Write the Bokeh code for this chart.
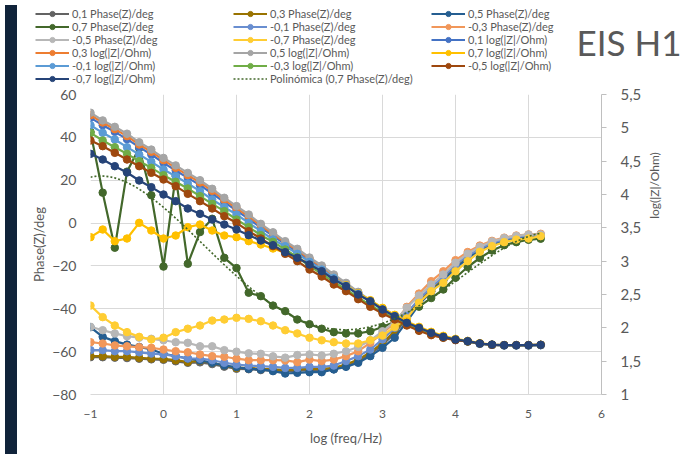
import numpy as np
from math import pi
from bokeh.plotting import figure
from bokeh.models import (Range1d, LinearAxis, FixedTicker, CustomJSTickFormatter,
                          Legend, LegendItem, Label, Div)
from bokeh.layouts import row, column
from bokeh.embed import file_html
from bokeh.resources import INLINE

# ---------------- data ----------------
log_freq = [-1.0, -0.833, -0.667, -0.5, -0.333, -0.167, 0.0, 0.167, 0.333, 0.5,
            0.667, 0.833, 1.0, 1.167, 1.333, 1.5, 1.667, 1.833, 2.0, 2.167,
            2.333, 2.5, 2.667, 2.833, 3.0, 3.167, 3.333, 3.5, 3.667, 3.833,
            4.0, 4.167, 4.333, 4.5, 4.667, 4.833, 5.0, 5.167]

# Phase(Z)/deg  (left axis)
phase_p01 = [-62.6, -62.6, -62.8, -63.0, -63.3, -63.6, -63.8, -64.5, -65.2, -65.0,
             -65.8, -67.0, -68.0, -68.2, -68.6, -68.9, -69.2, -68.9, -68.6, -68.6,
             -68.2, -66.8, -64.5, -61.2, -56.8, -51.5, -44.5, -37.5, -31.8, -26.5,
             -20.6, -16.2, -12.6, -9.8, -8.0, -6.8, -6.1, -5.8]
phase_p03 = [-62.1, -62.1, -62.4, -62.4, -62.9, -63.2, -63.4, -64.0, -64.8, -64.3,
             -65.2, -66.5, -67.6, -67.6, -68.0, -68.3, -68.6, -68.3, -68.0, -68.0,
             -67.6, -66.0, -63.7, -60.3, -55.9, -50.5, -43.5, -36.5, -31.0, -25.8,
             -20.0, -15.8, -12.3, -9.5, -7.8, -6.6, -6.0, -5.7]
phase_p05 = [-48.6, -53.1, -55.1, -56.7, -57.8, -59.0, -61.0, -62.1, -63.2, -64.1,
             -65.2, -66.5, -67.2, -68.0, -68.3, -69.1, -70.2, -69.9, -69.6, -69.6,
             -68.3, -67.1, -65.2, -62.1, -58.2, -53.5, -46.0, -38.0, -32.0, -26.8,
             -21.0, -16.5, -12.8, -10.0, -8.2, -7.0, -6.3, -6.0]
phase_p07 = [42.5, 14.2, -11.5, 24.0, 35.0, 13.0, -20.3, 22.0, -19.0, -4.2,
             2.0, -16.2, -21.0, -32.5, -34.1, -38.5, -41.1, -45.0, -47.2, -49.3,
             -50.9, -51.5, -51.5, -50.5, -48.5, -46.0, -42.5, -39.0, -35.0, -31.0,
             -25.5, -20.5, -16.3, -12.8, -10.3, -8.9, -7.8, -7.3]
phase_m01 = [-59.3, -59.3, -59.8, -59.8, -60.3, -60.9, -61.3, -62.1, -63.2, -63.3,
             -64.0, -65.2, -66.0, -66.5, -66.8, -67.1, -67.6, -67.6, -67.1, -67.1,
             -66.5, -64.4, -62.1, -59.0, -54.3, -48.9, -42.0, -35.5, -30.0, -25.0,
             -19.5, -15.2, -12.0, -9.3, -7.6, -6.5, -5.9, -5.6]
phase_m03 = [-55.6, -56.2, -57.1, -57.5, -57.9, -58.2, -59.0, -59.8, -60.3, -61.3,
             -62.1, -62.4, -63.3, -64.0, -64.0, -64.0, -64.1, -64.9, -63.7, -64.4,
             -63.7, -62.1, -59.8, -55.9, -51.5, -46.5, -39.1, -32.9, -27.1, -22.5,
             -17.3, -13.5, -10.5, -8.3, -6.8, -5.8, -5.3, -5.0]
phase_m05 = [-48.4, -50.0, -51.5, -52.8, -53.5, -54.0, -54.7, -55.6, -55.9, -57.5,
             -57.5, -59.3, -60.0, -60.8, -61.0, -62.2, -62.8, -61.6, -61.3, -61.8,
             -61.0, -59.8, -57.8, -54.7, -50.5, -46.0, -39.5, -33.8, -28.7, -24.0,
             -18.5, -14.3, -11.0, -8.6, -7.0, -6.0, -5.4, -5.3]
phase_m07 = [-38.5, -43.9, -47.8, -50.9, -53.1, -54.3, -53.5, -50.9, -49.3, -47.8,
             -45.5, -45.0, -44.2, -44.7, -45.8, -47.8, -50.0, -51.5, -53.5, -54.7,
             -55.6, -56.2, -56.2, -54.7, -52.5, -48.5, -44.5, -37.2, -31.8, -27.9,
             -22.5, -17.8, -13.4, -10.8, -8.9, -7.7, -7.2, -6.1]

# log(|Z|/Ohm)  (right axis)
logz_p01 = [5.15, 5.04, 4.94, 4.83, 4.71, 4.60, 4.475, 4.36, 4.25, 4.14,
            4.015, 3.885, 3.76, 3.635, 3.505, 3.38, 3.255, 3.14, 3.015, 2.90,
            2.77, 2.645, 2.52, 2.395, 2.28, 2.18, 2.07, 1.985, 1.92, 1.86,
            1.82, 1.795, 1.76, 1.745, 1.735, 1.735, 1.735, 1.74]
logz_p03 = [5.19, 5.08, 4.98, 4.875, 4.75, 4.64, 4.515, 4.40, 4.29, 4.18,
            4.055, 3.92, 3.795, 3.67, 3.535, 3.41, 3.28, 3.165, 3.035, 2.92,
            2.785, 2.66, 2.53, 2.40, 2.285, 2.18, 2.07, 1.99, 1.925, 1.865,
            1.825, 1.80, 1.765, 1.745, 1.74, 1.74, 1.74, 1.745]
logz_p05 = [5.227, 5.111, 5.015, 4.912, 4.783, 4.674, 4.549, 4.436, 4.324, 4.214,
            4.086, 3.951, 3.826, 3.70, 3.56, 3.433, 3.30, 3.186, 3.055, 2.935,
            2.80, 2.675, 2.54, 2.41, 2.29, 2.185, 2.075, 1.99, 1.925, 1.865,
            1.825, 1.80, 1.765, 1.745, 1.74, 1.74, 1.74, 1.745]
logz_p07 = [3.36, 3.475, 3.30, 3.34, 3.575, 3.46, 3.34, 3.385, 3.51, 3.55,
            3.46, 3.385, 3.36, 3.30, 3.25, 3.19, 3.125, 3.05, 2.96, 2.86,
            2.745, 2.64, 2.52, 2.415, 2.30, 2.195, 2.095, 2.015, 1.94, 1.88,
            1.835, 1.805, 1.77, 1.75, 1.74, 1.74, 1.74, 1.745]
logz_m01 = [5.04, 4.925, 4.825, 4.71, 4.60, 4.49, 4.375, 4.275, 4.165, 4.05,
            3.925, 3.81, 3.70, 3.575, 3.45, 3.325, 3.225, 3.11, 2.99, 2.875,
            2.75, 2.63, 2.51, 2.39, 2.275, 2.175, 2.065, 1.98, 1.92, 1.86,
            1.82, 1.795, 1.76, 1.745, 1.735, 1.735, 1.735, 1.74]
logz_m03 = [4.925, 4.81, 4.71, 4.61, 4.50, 4.40, 4.29, 4.19, 4.09, 3.975,
            3.86, 3.75, 3.625, 3.51, 3.39, 3.29, 3.175, 3.06, 2.925, 2.81,
            2.69, 2.575, 2.455, 2.34, 2.235, 2.14, 2.045, 1.965, 1.90, 1.855,
            1.82, 1.795, 1.765, 1.745, 1.74, 1.74, 1.74, 1.745]
logz_m05 = [4.81, 4.725, 4.625, 4.525, 4.425, 4.325, 4.225, 4.125, 4.01, 3.90,
            3.79, 3.675, 3.575, 3.45, 3.34, 3.225, 3.11, 3.0, 2.875, 2.77,
            2.65, 2.55, 2.43, 2.315, 2.215, 2.125, 2.035, 1.955, 1.89, 1.85,
            1.815, 1.795, 1.765, 1.745, 1.74, 1.74, 1.74, 1.745]
logz_m07 = [4.61, 4.525, 4.425, 4.33, 4.21, 4.11, 4.0, 3.90, 3.79, 3.71,
            3.625, 3.55, 3.475, 3.39, 3.31, 3.24, 3.135, 3.05, 2.95, 2.85,
            2.725, 2.625, 2.50, 2.40, 2.275, 2.175, 2.075, 2.0, 1.925, 1.865,
            1.825, 1.80, 1.765, 1.75, 1.74, 1.74, 1.74, 1.745]

phase_series = [
    ("0,1 Phase(Z)/deg", phase_p01, "#636363"),
    ("0,3 Phase(Z)/deg", phase_p03, "#997300"),
    ("0,5 Phase(Z)/deg", phase_p05, "#255E91"),
    ("0,7 Phase(Z)/deg", phase_p07, "#43682B"),
    ("-0,1 Phase(Z)/deg", phase_m01, "#698ED0"),
    ("-0,3 Phase(Z)/deg", phase_m03, "#F1975A"),
    ("-0,5 Phase(Z)/deg", phase_m05, "#B7B7B7"),
    ("-0,7 Phase(Z)/deg", phase_m07, "#FFCD33"),
]
logz_series = [
    ("0,1 log(|Z|/Ohm)", logz_p01, "#4472C4"),
    ("0,3 log(|Z|/Ohm)", logz_p03, "#ED7D31"),
    ("0,5 log(|Z|/Ohm)", logz_p05, "#A5A5A5"),
    ("0,7 log(|Z|/Ohm)", logz_p07, "#FFC000"),
    ("-0,1 log(|Z|/Ohm)", logz_m01, "#5B9BD5"),
    ("-0,3 log(|Z|/Ohm)", logz_m03, "#70AD47"),
    ("-0,5 log(|Z|/Ohm)", logz_m05, "#9E480E"),
    ("-0,7 log(|Z|/Ohm)", logz_m07, "#264478"),
]
trend_label = "Polinómica (0,7 Phase(Z)/deg)"
trend_color = "#43682B"
chart_title = "EIS H1"
x_ticks = [-1, 0, 1, 2, 3, 4, 5, 6]
phase_ticks = [-80, -60, -40, -20, 0, 20, 40, 60]
logz_ticks = [1, 1.5, 2, 2.5, 3, 3.5, 4, 4.5, 5, 5.5]

# ---------------- styling ----------------
FONT = "Lato"
TXT = "#595959"
GRID = "#d9d9d9"
LW = 2.2
MS = 7.5

# ---------------- main chart ----------------
p = figure(width=623, height=368, x_range=Range1d(-1, 6), y_range=Range1d(-80, 60),
           output_backend="svg", toolbar_location=None,
           min_border_left=68, min_border_right=44, min_border_top=9, min_border_bottom=59)
p.outline_line_color = None
p.background_fill_color = "white"
p.border_fill_color = "white"
p.extra_y_ranges = {"z": Range1d(1, 5.5)}

xa = p.xaxis[0]
xa.ticker = FixedTicker(ticks=x_ticks)
xa.axis_label = "log (freq/Hz)"
xa.axis_label_text_font = FONT
xa.axis_label_text_font_style = "normal"
xa.axis_label_text_font_size = "13px"
xa.axis_label_text_color = TXT
xa.axis_label_standoff = 9
xa.major_label_text_font = FONT
xa.major_label_text_font_size = "12px"
xa.major_label_text_color = TXT
xa.major_label_standoff = 15
xa.major_tick_out = 0
xa.major_tick_in = 0
xa.major_tick_line_color = None
xa.minor_tick_line_color = None
xa.axis_line_color = GRID

ya = p.yaxis[0]
ya.ticker = FixedTicker(ticks=phase_ticks)
ya.axis_label = "Phase(Z)/deg"
ya.axis_label_text_font = FONT
ya.axis_label_text_font_style = "normal"
ya.axis_label_text_font_size = "13px"
ya.axis_label_text_color = TXT
ya.axis_label_standoff = 2
ya.major_label_text_font = FONT
ya.major_label_text_font_size = "14px"
ya.major_label_text_color = TXT
ya.major_label_standoff = 14
ya.major_tick_out = 0
ya.major_tick_in = 0
ya.major_tick_line_color = None
ya.minor_tick_line_color = None
ya.axis_line_color = None

ra = LinearAxis(y_range_name="z", ticker=FixedTicker(ticks=logz_ticks),
                formatter=CustomJSTickFormatter(
                    code="var s=(Math.round(tick*10)/10).toString(); return s.replace('.', ',');"))
ra.major_label_text_font = FONT
ra.major_label_text_font_size = "15px"
ra.major_label_text_color = TXT
ra.major_label_standoff = 14
ra.major_tick_out = 5
ra.major_tick_in = 0
ra.major_tick_line_color = "#bfbfbf"
ra.minor_tick_line_color = None
ra.axis_line_color = "#bfbfbf"
p.add_layout(ra, "right")

p.xgrid.ticker = FixedTicker(ticks=x_ticks)
p.xgrid.grid_line_color = GRID
p.ygrid.grid_line_color = GRID

for name, vals, col in phase_series:
    p.line(log_freq, vals, line_color=col, line_width=LW)
    p.scatter(log_freq, vals, size=MS, fill_color=col, line_color=col)
for name, vals, col in logz_series:
    p.line(log_freq, vals, line_color=col, line_width=LW, y_range_name="z")
    p.scatter(log_freq, vals, size=MS, fill_color=col, line_color=col, y_range_name="z")

# polynomial trendline of the 0,7 Phase series (as Excel computes it)
coef = np.polyfit(np.array(log_freq), np.array(phase_p07), 4)
tx = np.linspace(log_freq[0], log_freq[-1], 200)
ty = np.polyval(coef, tx)
p.line(tx, ty, line_color=trend_color, line_width=1.6, line_dash="2 2")

# ---------------- header strip: legend + title ----------------
top = figure(width=667, height=85, x_range=Range1d(-1, 6), y_range=Range1d(-80, 60),
             output_backend="svg", toolbar_location=None,
             x_axis_type=None, y_axis_type=None, min_border=0)
top.outline_line_color = None
top.background_fill_color = "white"
top.border_fill_color = "white"
top.grid.visible = False

items = []
for name, vals, col in phase_series + logz_series:
    l = top.line(log_freq, vals, line_color=col, line_width=LW, visible=False)
    s = top.scatter(log_freq, vals, size=MS, fill_color=col, line_color=col, visible=False)
    items.append(LegendItem(label=name, renderers=[l, s]))
t = top.line(tx, ty, line_color=trend_color, line_width=1.6, line_dash="2 2", visible=False)
items.append(LegendItem(label=trend_label, renderers=[t]))

legend = Legend(items=items, orientation="horizontal", ncols=3, location=(13, 0),
                label_text_font=FONT, label_text_font_size="11px", label_text_color=TXT,
                glyph_width=34, glyph_height=13, label_height=13, label_width=161,
                label_standoff=3, spacing=0, padding=0, margin=0,
                inactive_fill_alpha=0,
                background_fill_alpha=0, border_line_color=None)
top.add_layout(legend)

top.add_layout(Label(x=659, y=44, x_units="screen", y_units="screen", text=chart_title,
                     text_font=FONT, text_font_size="35px", text_color=TXT,
                     text_align="right", text_baseline="middle"))

# ---------------- right strip: secondary axis title ----------------
side = figure(width=44, height=368, x_range=Range1d(0, 1), y_range=Range1d(0, 1),
              output_backend="svg", toolbar_location=None,
              x_axis_type=None, y_axis_type=None, min_border=0)
side.outline_line_color = None
side.background_fill_color = "white"
side.border_fill_color = "white"
side.grid.visible = False
side.add_layout(Label(x=9, y=209, x_units="screen", y_units="screen", text="log(|Z|/Ohm)",
                      angle=pi / 2, text_font=FONT, text_font_size="12px", text_color=TXT,
                      text_align="center", text_baseline="middle"))

strip = Div(width=12, height=453, styles={"background-color": "#10233a"})
layout = row(strip, column(top, row(p, side)))

open("out.html", "w").write(file_html(layout, INLINE))
